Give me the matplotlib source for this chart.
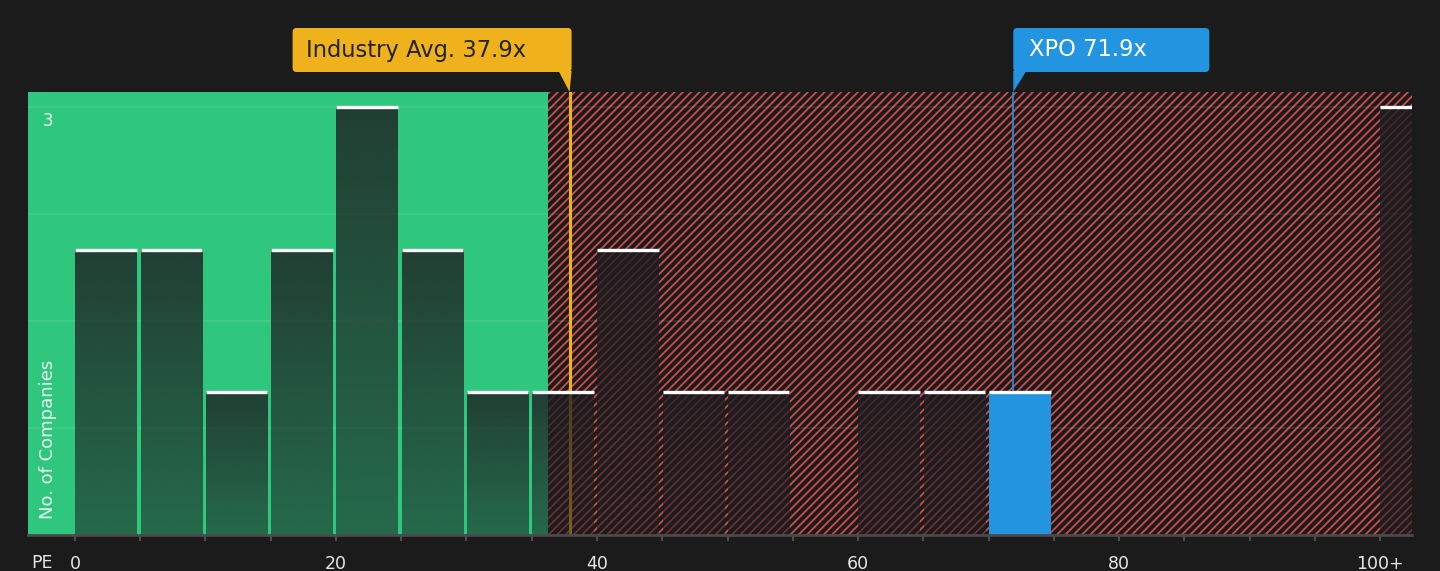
import matplotlib.pyplot as plt
import numpy as np
from matplotlib.patches import FancyBboxPatch, Polygon
from matplotlib.transforms import IdentityTransform, blended_transform_factory

# histogram of PE ratios (bin start, companies in bin)
bin_starts = [0, 5, 10, 15, 20, 25, 30, 35, 40, 45, 50, 55, 60, 65, 70, 100]
counts = [2, 2, 1, 2, 3, 2, 1, 1, 2, 1, 1, 0, 1, 1, 1, 3]
grid_levels = [0.75, 1.5, 2.25, 3]
tick_values = [0, 20, 40, 60, 80, 100]
tick_labels = ['0', '20', '40', '60', '80', '100+']

industry_avg = 37.9
company_name = 'XPO'
company_pe = 71.9
fair_limit = 36.25

BG = '#1b1b1b'
GREEN = '#2ec77d'
RED = '#d44d4d'
GOLD = '#efb21c'
BLUE = '#2394e0'

W, H = 1440, 571
fig = plt.figure(figsize=(W / 100, H / 100), dpi=100, facecolor=BG)
ax = fig.add_axes([28 / W, (H - 535) / H, (1412 - 28) / W, (535 - 92) / H])
ax.set_facecolor(BG)
x_lo, x_hi = -3.6, 102.45
y_lo, y_hi = 0, 3.105

plt.rcParams['hatch.linewidth'] = 1.25

# zones
ax.axvspan(x_lo, fair_limit, facecolor=GREEN, edgecolor='none', zorder=0)
ax.axvspan(fair_limit, x_hi, facecolor=BG, edgecolor=RED, hatch='////', linewidth=0, zorder=0)

for g in grid_levels:
    ax.axhline(g, color='white', alpha=0.09, lw=1.2, zorder=1)

ax.axvline(industry_avg, color=GOLD, lw=2.2, zorder=2)
ax.axvline(company_pe, color=BLUE, lw=1.2, zorder=2)

# bars: dark translucent with vertical gradient, white cap
bar_w = 4.72
rgb = np.array([30, 29, 33]) / 255
alpha = np.linspace(0.8, 0.55, 100)
grad = np.zeros((100, 1, 4))
grad[:, 0, :3] = rgb
grad[:, 0, 3] = alpha
for start, n in zip(bin_starts, counts):
    if n == 0:
        continue
    left = start + 0.03
    if start <= company_pe < start + 5:
        ax.bar(left, n, width=bar_w, align='edge', color=BLUE, zorder=3)
    else:
        ax.imshow(grad, extent=(left, left + bar_w, 0, n), aspect='auto',
                  origin='upper', zorder=3, interpolation='bilinear')
    ax.plot([left, left + bar_w], [n, n], color='white', lw=2.4,
            solid_capstyle='butt', zorder=4)

ax.set_xlim(x_lo, x_hi)
ax.set_ylim(y_lo, y_hi)

for s in ['top', 'left', 'right']:
    ax.spines[s].set_visible(False)
ax.spines['bottom'].set_color('#4a4a4a')
ax.spines['bottom'].set_linewidth(2)
ax.spines['bottom'].set_zorder(5)

ticks = list(range(0, 101, 5))
ax.set_xticks(ticks)
ax.set_xticklabels([tick_labels[tick_values.index(t)] if t in tick_values else '' for t in ticks])
ax.tick_params(axis='x', length=4.5, width=1.2, color='#5a5a5a', labelcolor='#e6e6e6',
               labelsize=12.5, pad=10)
ax.set_yticks([])

trans = blended_transform_factory(ax.transAxes, ax.transData)
ax.text(0.0145, 3 - 0.035, '3', transform=trans, ha='center', va='top',
        color='#eafaf1', fontsize=12, zorder=6)
ax.text(0.0145, 0.035, 'No. of Companies', transform=ax.transAxes, rotation=90,
        ha='center', va='bottom', color='#eafaf1', fontsize=13, zorder=6)
fig.text(42 / W, (H - 563) / H, 'PE', ha='center', va='center', color='#e6e6e6', fontsize=12.5)

# callout boxes, placed in pixels from the data positions
box_top, box_bot = H - 28, H - 72
axes_top = H - 92
ind_px = ax.transData.transform((industry_avg, 0))[0]
cmp_px = ax.transData.transform((company_pe, 0))[0]

ind_right = ind_px + 2
ind_left = ind_right - 279
fig.add_artist(FancyBboxPatch((ind_left, box_bot), ind_right - ind_left, box_top - box_bot,
                              boxstyle='round,pad=0,rounding_size=4', facecolor=GOLD,
                              edgecolor='none', transform=IdentityTransform()))
fig.add_artist(Polygon([(ind_right - 13, box_bot + 1), (ind_right, box_bot + 1), (ind_px, axes_top)],
                       closed=True, facecolor=GOLD, edgecolor='none', transform=IdentityTransform()))
fig.text(ind_left + 13, (box_top + box_bot) / 2, 'Industry Avg. 37.9x', transform=IdentityTransform(),
         ha='left', va='center', color='#232323', fontsize=16.3)

cmp_left = cmp_px
cmp_right = cmp_left + 196
fig.add_artist(FancyBboxPatch((cmp_left, box_bot), cmp_right - cmp_left, box_top - box_bot,
                              boxstyle='round,pad=0,rounding_size=4', facecolor=BLUE,
                              edgecolor='none', transform=IdentityTransform()))
fig.add_artist(Polygon([(cmp_left, box_bot + 1), (cmp_left + 13, box_bot + 1), (cmp_px, axes_top)],
                       closed=True, facecolor=BLUE, edgecolor='none', transform=IdentityTransform()))
fig.text(cmp_left + 16, (box_top + box_bot) / 2, f'{company_name} {company_pe}x',
         transform=IdentityTransform(), ha='left', va='center', color='white', fontsize=16.3)

fig.savefig('out.png', dpi=100, facecolor=BG)
